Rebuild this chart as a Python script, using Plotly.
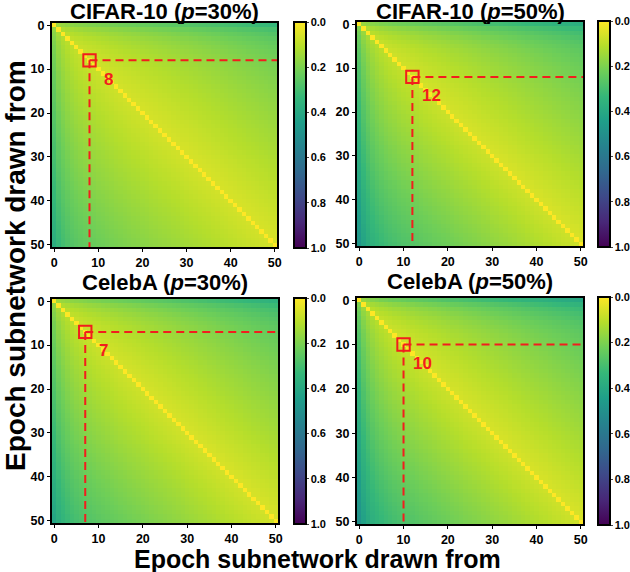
import plotly.graph_objects as go

W, H = 630, 572

EPOCHS = list(range(51))

# per-epoch mask "noise" level (early epochs are unstable), shared by all panels
NOISE = [0.070, 0.055, 0.048, 0.044, 0.041, 0.039, 0.037, 0.036, 0.035, 0.034, 0.033,
         0.033, 0.032, 0.032, 0.031, 0.031, 0.031, 0.030, 0.030, 0.030, 0.030,
         0.030, 0.029, 0.029, 0.029, 0.029, 0.029, 0.029, 0.029, 0.029, 0.028,
         0.028, 0.028, 0.028, 0.028, 0.028, 0.028, 0.028, 0.028, 0.028, 0.028,
         0.028, 0.028, 0.028, 0.028, 0.028, 0.028, 0.028, 0.028, 0.028, 0.028]

# cumulative mask drift per epoch
DRIFT_CIFAR_30 = [0.000, 0.025, 0.042, 0.055, 0.064, 0.072, 0.078, 0.084, 0.089, 0.093, 0.098,
                  0.102, 0.106, 0.110, 0.114, 0.118, 0.122, 0.125, 0.129, 0.132, 0.136,
                  0.139, 0.143, 0.146, 0.150, 0.153, 0.156, 0.160, 0.163, 0.167, 0.170,
                  0.174, 0.177, 0.181, 0.184, 0.187, 0.191, 0.194, 0.198, 0.201, 0.205,
                  0.208, 0.212, 0.215, 0.219, 0.222, 0.225, 0.229, 0.232, 0.236, 0.239]
DRIFT_CIFAR_50 = [0.000, 0.032, 0.053, 0.068, 0.079, 0.089, 0.097, 0.104, 0.109, 0.115, 0.120,
                  0.124, 0.129, 0.133, 0.138, 0.143, 0.147, 0.151, 0.155, 0.159, 0.163,
                  0.167, 0.171, 0.175, 0.179, 0.183, 0.187, 0.191, 0.196, 0.199, 0.204,
                  0.207, 0.212, 0.215, 0.220, 0.223, 0.228, 0.231, 0.236, 0.239, 0.244,
                  0.247, 0.252, 0.255, 0.260, 0.263, 0.268, 0.271, 0.276, 0.279, 0.284]
DRIFT_CELEBA_30 = [0.000, 0.023, 0.039, 0.052, 0.062, 0.070, 0.077, 0.084, 0.090, 0.095, 0.100,
                   0.105, 0.109, 0.114, 0.118, 0.123, 0.127, 0.131, 0.135, 0.139, 0.143,
                   0.147, 0.151, 0.155, 0.159, 0.163, 0.167, 0.171, 0.175, 0.179, 0.183,
                   0.187, 0.191, 0.196, 0.199, 0.204, 0.207, 0.212, 0.215, 0.220, 0.223,
                   0.228, 0.231, 0.236, 0.239, 0.244, 0.247, 0.252, 0.255, 0.260, 0.263]
DRIFT_CELEBA_50 = [0.000, 0.035, 0.058, 0.074, 0.086, 0.097, 0.105, 0.113, 0.120, 0.125, 0.131,
                   0.137, 0.141, 0.146, 0.151, 0.155, 0.160, 0.164, 0.169, 0.174, 0.178,
                   0.183, 0.186, 0.191, 0.196, 0.200, 0.204, 0.208, 0.213, 0.217, 0.221,
                   0.225, 0.230, 0.233, 0.238, 0.243, 0.246, 0.251, 0.255, 0.259, 0.263,
                   0.268, 0.271, 0.276, 0.281, 0.284, 0.289, 0.293, 0.297, 0.301, 0.306]

TITLES = ["CIFAR-10 (<i>p</i>=30%)", "CIFAR-10 (<i>p</i>=50%)",
          "CelebA (<i>p</i>=30%)", "CelebA (<i>p</i>=50%)"]
DRIFTS = [DRIFT_CIFAR_30, DRIFT_CIFAR_50, DRIFT_CELEBA_30, DRIFT_CELEBA_50]
LOWER_SCALE = [1.12, 1.25, 1.15, 1.22]   # lower triangle is a bit darker
EB_EPOCH = [8, 12, 7, 10]
CB_TICKS = [0.0, 0.2, 0.4, 0.6, 0.8, 1.0]

RED = "#f21d1d"
FONT = "Liberation Sans, Arial, sans-serif"
TICK_FONT = dict(size=12.5, color="black", family=FONT, weight="bold")
CB_FONT = dict(size=11, color="black", family=FONT, weight="bold")

# panel geometry in pixels: (left, right, top, bottom)
PANELS = [(52, 277, 23, 247), (357, 583, 22, 246),
          (52, 278, 299, 523), (357, 583, 298, 524)]
CB_X = [294, 598, 294, 598]
TITLE_Y = [12, 12, 282, 281]


def px_x(v):
    return v / W


def px_y(v):
    return 1 - v / H


def distance(drift, lo):
    z = []
    for i in EPOCHS:
        row = []
        for j in EPOCHS:
            if i == j:
                d = 0.0
            else:
                d = NOISE[i] + NOISE[j] + abs(drift[i] - drift[j])
                if i > j:
                    d *= lo
            row.append(1 - d)   # flipped so the colorbar reads 0 at top
        z.append(row)
    return z


fig = go.Figure()
layout = {}
shapes, annotations = [], []

for k in range(4):
    l, r, t, b = PANELS[k]
    sfx = "" if k == 0 else str(k + 1)
    xa, ya = "x" + sfx, "y" + sfx
    fig.add_trace(go.Heatmap(
        z=distance(DRIFTS[k], LOWER_SCALE[k]), x=EPOCHS, y=EPOCHS,
        xaxis=xa, yaxis=ya,
        colorscale="Viridis", zmin=0, zmax=1,
        colorbar=dict(
            x=px_x(CB_X[k]), xanchor="left", xref="paper",
            y=px_y((t + b) / 2), yanchor="middle",
            len=b - t + 2, lenmode="pixels", thickness=12,
            outlinecolor="black", outlinewidth=2,
            tickvals=[1 - v for v in CB_TICKS],
            ticktext=[f"{v:.1f}" for v in CB_TICKS],
            ticks="outside", ticklen=2, tickwidth=1,
            tickfont=CB_FONT, xpad=0, ypad=0,
        ),
        hovertemplate="row %{y}, col %{x}<extra></extra>",
    ))
    axis_common = dict(
        showline=True, mirror=True, linecolor="black", linewidth=2,
        ticks="outside", ticklen=3, tickwidth=1, tickcolor="black",
        tickvals=[0, 10, 20, 30, 40, 50], showgrid=False, zeroline=False,
        tickfont=TICK_FONT,
    )
    layout["xaxis" + sfx] = dict(axis_common, domain=[px_x(l), px_x(r)],
                                 anchor=ya, range=[-0.5, 50.5])
    layout["yaxis" + sfx] = dict(axis_common, domain=[px_y(b), px_y(t)],
                                 anchor=xa, range=[50.5, -0.5])

    e = EB_EPOCH[k]
    line = dict(color=RED, width=2, dash="8px,5px")
    shapes.append(dict(type="line", xref=xa, yref=ya, x0=e, y0=e, x1=50.5, y1=e, line=line))
    shapes.append(dict(type="line", xref=xa, yref=ya, x0=e, y0=e, x1=e, y1=50.5, line=line))
    shapes.append(dict(type="rect", xref=xa, yref=ya, x0=e - 1.4, x1=e + 1.4,
                       y0=e - 1.4, y1=e + 1.4, line=dict(color=RED, width=2)))
    annotations.append(dict(xref=xa, yref=ya, x=e + 4.2, y=e + 4.3, text=str(e),
                            showarrow=False, xanchor="center", yanchor="middle",
                            font=dict(size=17, color=RED, family=FONT, weight="bold")))
    annotations.append(dict(xref="paper", yref="paper", x=px_x((l + r) / 2),
                            y=px_y(TITLE_Y[k]), xanchor="center", yanchor="middle",
                            text=TITLES[k], showarrow=False,
                            font=dict(size=22, color="black", family=FONT, weight="bold")))

annotations.append(dict(xref="paper", yref="paper", x=px_x(317), y=px_y(559),
                        xanchor="center", yanchor="middle",
                        text="Epoch subnetwork drawn from", showarrow=False,
                        font=dict(size=25, color="black", family=FONT, weight="bold")))
annotations.append(dict(xref="paper", yref="paper", x=px_x(15), y=px_y(266),
                        xanchor="center", yanchor="middle",
                        text="Epoch subnetwork drawn from", showarrow=False, textangle=-90,
                        font=dict(size=28, color="black", family=FONT, weight="bold")))

fig.update_layout(
    width=W, height=H, margin=dict(l=0, r=0, t=0, b=0, autoexpand=False),
    paper_bgcolor="white", plot_bgcolor="white",
    shapes=shapes, annotations=annotations, **layout,
)

# the page's default body margin would shift the whole figure by 8px
fig.write_html("out.html", config={"displayModeBar": False},
               post_script="document.body.style.margin='0';document.body.style.padding='0';")
